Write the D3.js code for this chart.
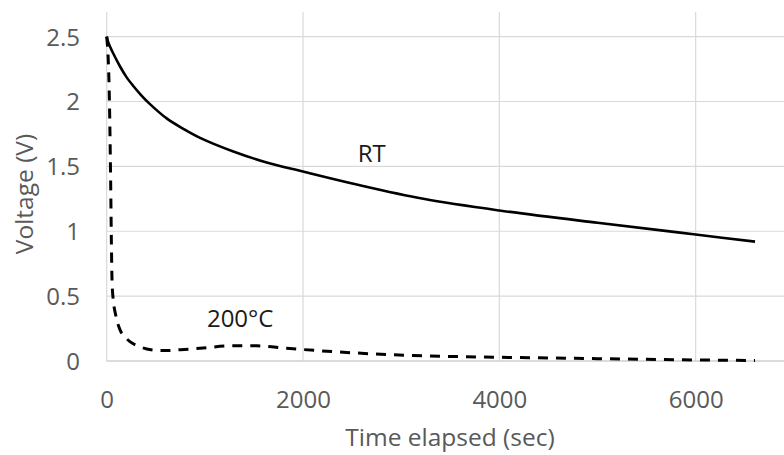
<!DOCTYPE html>
<html>
<head>
<meta charset="utf-8">
<script src="https://cdn.jsdelivr.net/npm/d3@7"></script>
<style>
  html, body { margin: 0; padding: 0; background: #fff; }
  svg { display: block; }
</style>
</head>
<body>
<svg id="chart" width="784" height="455"></svg>
<script>
// ---- data ----
const timeRT   = [0, 10, 30, 67, 136, 200, 271, 350, 441, 611, 780, 951, 1290, 1630, 2000, 2547, 3226, 4000, 5000, 5671, 6000, 6605];
const voltRT   = [2.5, 2.47, 2.43, 2.37, 2.27, 2.19, 2.12, 2.05, 1.98, 1.87, 1.79, 1.72, 1.615, 1.53, 1.46, 1.36, 1.25, 1.16, 1.065, 1.005, 0.975, 0.92];
const time200  = [0, 25, 40, 48, 55, 70, 90, 136, 180, 237, 320, 407, 577, 750, 951, 1290, 1528, 1834, 2309, 3124, 4000, 5000, 6000, 6605];
const volt200  = [2.5, 2.1, 1.4, 0.9, 0.6, 0.45, 0.36, 0.24, 0.19, 0.149, 0.115, 0.093, 0.08, 0.087, 0.098, 0.118, 0.117, 0.098, 0.072, 0.042, 0.029, 0.018, 0.008, 0.004];
const xTicks   = [0, 2000, 4000, 6000];
const yTicks   = [0, 0.5, 1, 1.5, 2, 2.5];
const yTickLabels = ["0", "0.5", "1", "1.5", "2", "2.5"];
const xTitle = "Time elapsed (sec)";
const yTitle = "Voltage (V)";
const labelRT = { text: "RT", t: 2700, v: 1.53 };
const label200 = { text: "200°C", t: 1360, v: 0.26 };

// ---- layout ----
const svg = d3.select("#chart");
const x = d3.scaleLinear().domain([0, 6900]).range([106.7, 784]);
const y = d3.scaleLinear().domain([0, 2.69]).range([361, 12]);
const font = "'Open Sans', 'Liberation Sans', sans-serif";
const gridColor = "#d9d9d9";
const tickColor = "#595959";

// grid
svg.append("g").selectAll("line").data(yTicks.filter(d => d > 0)).join("line")
  .attr("x1", x(0)).attr("x2", 784)
  .attr("y1", d => y(d)).attr("y2", d => y(d))
  .attr("stroke", gridColor).attr("stroke-width", 1.2);
svg.append("g").selectAll("line").data(xTicks).join("line")
  .attr("x1", d => x(d)).attr("x2", d => x(d))
  .attr("y1", y(2.69)).attr("y2", y(0))
  .attr("stroke", gridColor).attr("stroke-width", 1.2);
// base axis line
svg.append("line")
  .attr("x1", x(0)).attr("x2", 784).attr("y1", y(0)).attr("y2", y(0))
  .attr("stroke", "#cfcfcf").attr("stroke-width", 1.4);

// axes (labels only)
const xAxis = d3.axisBottom(x).tickValues(xTicks).tickSize(0).tickPadding(0).tickFormat(d3.format("d"));
const gx = svg.append("g").attr("transform", `translate(0,${y(0)})`).call(xAxis);
gx.select(".domain").remove();
gx.selectAll("text").attr("dy", null).attr("y", 47)
  .attr("font-family", font).attr("font-size", 24).attr("fill", tickColor);

const yAxis = d3.axisLeft(y).tickValues(yTicks).tickSize(0).tickPadding(0).tickFormat((d, i) => yTickLabels[i]);
const gy = svg.append("g").attr("transform", `translate(80,0)`).call(yAxis);
gy.select(".domain").remove();
gy.selectAll("text").attr("x", 0).attr("dy", "0.35em")
  .attr("font-family", font).attr("font-size", 24).attr("fill", tickColor);

// titles
svg.append("text").attr("x", 450).attr("y", 446).attr("text-anchor", "middle")
  .attr("font-family", font).attr("font-size", 24.5).attr("fill", tickColor).text(xTitle);
svg.append("text").attr("transform", "translate(33,194) rotate(-90)").attr("text-anchor", "middle")
  .attr("font-family", font).attr("font-size", 24.5).attr("fill", tickColor).text(yTitle);

// lines
const lineDash = d3.line().curve(d3.curveMonotoneX);
const lineRT = d3.line().curve(d3.curveCatmullRom.alpha(0.5));
const rtPts = timeRT.map((t, i) => [x(t), y(voltRT[i])]);
const hiPts = time200.map((t, i) => [x(t), y(volt200[i])]);
svg.append("path").attr("d", lineDash(hiPts)).attr("fill", "none")
  .attr("stroke", "#000").attr("stroke-width", 3).attr("stroke-dasharray", "10,8");
svg.append("path").attr("d", lineRT(rtPts)).attr("fill", "none")
  .attr("stroke", "#000").attr("stroke-width", 2.6);

// annotations
svg.append("text").attr("x", x(labelRT.t)).attr("y", y(labelRT.v)).attr("text-anchor", "middle")
  .attr("font-family", font).attr("font-size", 24).attr("fill", "#1a1a1a").text(labelRT.text);
svg.append("text").attr("x", x(label200.t)).attr("y", y(label200.v)).attr("text-anchor", "middle")
  .attr("font-family", font).attr("font-size", 24).attr("fill", "#1a1a1a").text(label200.text);
</script>
</body>
</html>
